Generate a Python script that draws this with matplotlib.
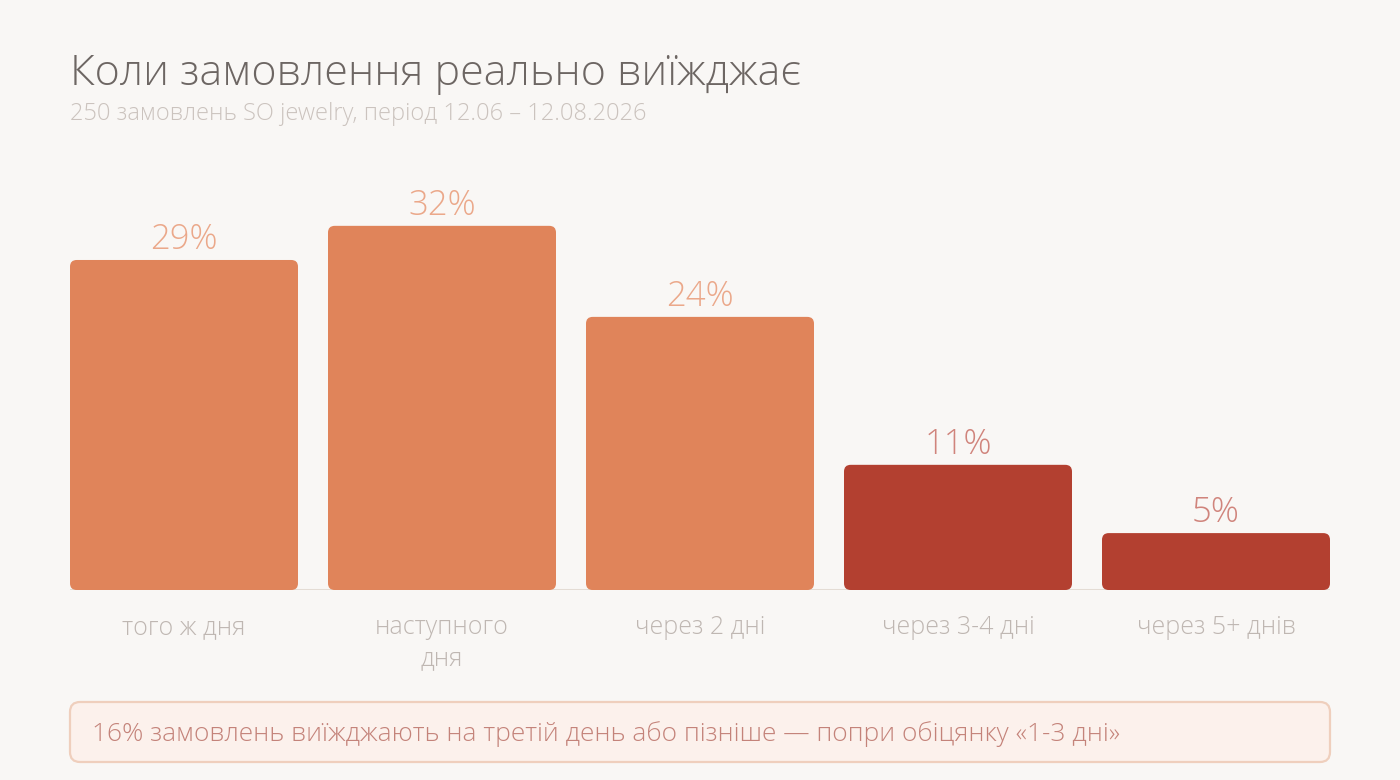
import matplotlib
matplotlib.use("Agg")
import matplotlib.pyplot as plt
from matplotlib.patches import FancyBboxPatch
from matplotlib.transforms import IdentityTransform

categories = ["того ж дня", "наступного\nдня", "через 2 дні", "через 3-4 дні", "через 5+ днів"]
shares = [29, 32, 24, 11, 5]
late = [False, False, False, True, True]

title = "Коли замовлення реально виїжджає"
subtitle = "250 замовлень SO jewelry, період 12.06 – 12.08.2026"
note = "16% замовлень виїжджають на третій день або пізніше — попри обіцянку «1-3 дні»"

BG = "#f9f7f5"
ORANGE = "#e0845a"
RED = "#b34030"
ORANGE_LBL = "#eba88a"
RED_LBL = "#d0847c"

plt.rcParams["font.family"] = ["Open Sans", "DejaVu Sans"]

W, H = 1400, 780
fig = plt.figure(figsize=(14, 7.8), dpi=100, facecolor=BG)

# axes placed in pixels: left 70, right 1330, baseline at y=590, top at y=150
ax = fig.add_axes([70 / W, (H - 590) / H, 1260 / W, 440 / H])
ax.set_facecolor(BG)
px_per_unit_y = 11.38
bar_w = 228 / 258
ax.set_xlim(-bar_w / 2, len(shares) - 1 + bar_w / 2)
ax.set_ylim(0, 440 / px_per_unit_y)
for s in ax.spines.values():
    s.set_visible(False)
ax.set_xticks([])
ax.set_yticks([])

bars = ax.bar(range(len(shares)), shares, width=bar_w,
              color=[RED if l else ORANGE for l in late])
aspect = (1 / px_per_unit_y) / (1 / 258)
for b, l in zip(bars, late):
    b.set_visible(False)
    ax.add_patch(FancyBboxPatch((b.get_x(), b.get_y()), b.get_width(), b.get_height(),
                                boxstyle="round,pad=0,rounding_size=0.026",
                                mutation_aspect=aspect, linewidth=0,
                                facecolor=b.get_facecolor(), zorder=2))

ax.axhline(0, color="#e4dcd4", lw=2.2, zorder=1)

for i, (v, l) in enumerate(zip(shares, late)):
    ax.annotate(f"{v}%", (i, v), xytext=(0, 8), textcoords="offset points",
                ha="center", va="baseline", fontsize=25, fontweight="light",
                color=RED_LBL if l else ORANGE_LBL)
    ax.annotate(categories[i], (i, 0), xytext=(0, -18), textcoords="offset points",
                ha="center", va="top", fontsize=18, fontweight="light",
                color="#bfb7b2", linespacing=1.3, annotation_clip=False)

fig.text(70 / W, (H - 85) / H, title, fontsize=31, fontweight="light",
         color="#6d6663", va="baseline")
fig.text(70 / W, (H - 120) / H, subtitle, fontsize=17, fontweight="light",
         color="#cbc3be", va="baseline")

box = FancyBboxPatch((70, 18), 1260, 60, boxstyle="round,pad=0,rounding_size=10",
                     transform=IdentityTransform(), facecolor="#fcf1ec",
                     edgecolor="#efcfbd", linewidth=1.6)
fig.patches.append(box)
fig.text(92 / W, 46 / H, note, fontsize=19, fontweight="light",
         color="#c4837a", va="center")

fig.savefig("out.png", dpi=100, facecolor=BG)
